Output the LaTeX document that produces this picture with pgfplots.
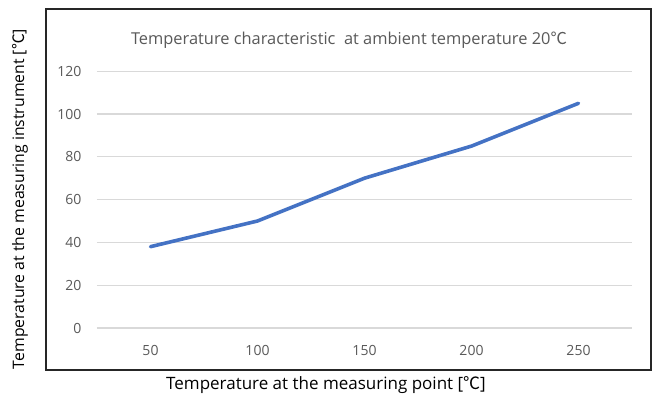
\documentclass[border=0pt]{standalone}
\usepackage{fontspec}
\setmainfont{Open Sans}
\newfontfamily\cjk{Noto Sans CJK KR}
\newcommand{\degC}{{\cjk ℃}}
\usepackage{pgfplots}
\pgfplotsset{compat=1.18}
\definecolor{serblue}{HTML}{4472C4}
\definecolor{gridgray}{HTML}{D9D9D9}
\definecolor{ticktext}{HTML}{595959}
\begin{document}
\begin{tikzpicture}[x=1pt,y=1pt]
\path[use as bounding box] (0,0) rectangle (654,401);
\draw[line width=1.8pt, black!85] (46,31) rectangle (651,392);
\begin{axis}[
    at={(97pt,73pt)}, anchor=south west,
    scale only axis, width=535pt, height=256.8pt,
    xmin=-0.5, xmax=4.5, ymin=0, ymax=120,
    axis line style={draw=none},
    xtick={0,1,2,3,4},
    xticklabels={50,100,150,200,250},
    ytick={0,20,...,120},
    ymajorgrids, grid style={gridgray, line width=1.3pt},
    major tick length=0pt,
    /pgf/number format/assume math mode=true,
    tick label style={font=\fontsize{14}{16}\selectfont, text=ticktext},
    xticklabel style={yshift=-14pt},
    yticklabel style={xshift=-12pt},
    clip=false,
]
\addplot[serblue, line width=3.6pt, line cap=round, line join=round] coordinates {
    (0,38) (1,50) (2,70) (3,85) (4,105)};
\end{axis}
\node[text=ticktext, font=\fontsize{16.4}{19}\selectfont] at (349,361) {Temperature characteristic\ \ at ambient temperature 20\degC};
\node[font=\fontsize{17}{20}\selectfont] at (326,16) {Temperature at the measuring point [\degC]};
\node[rotate=90, font=\fontsize{15.8}{19}\selectfont] at (20,202) {Temperature at the measuring instrument [\degC]};
\end{tikzpicture}
\end{document}
